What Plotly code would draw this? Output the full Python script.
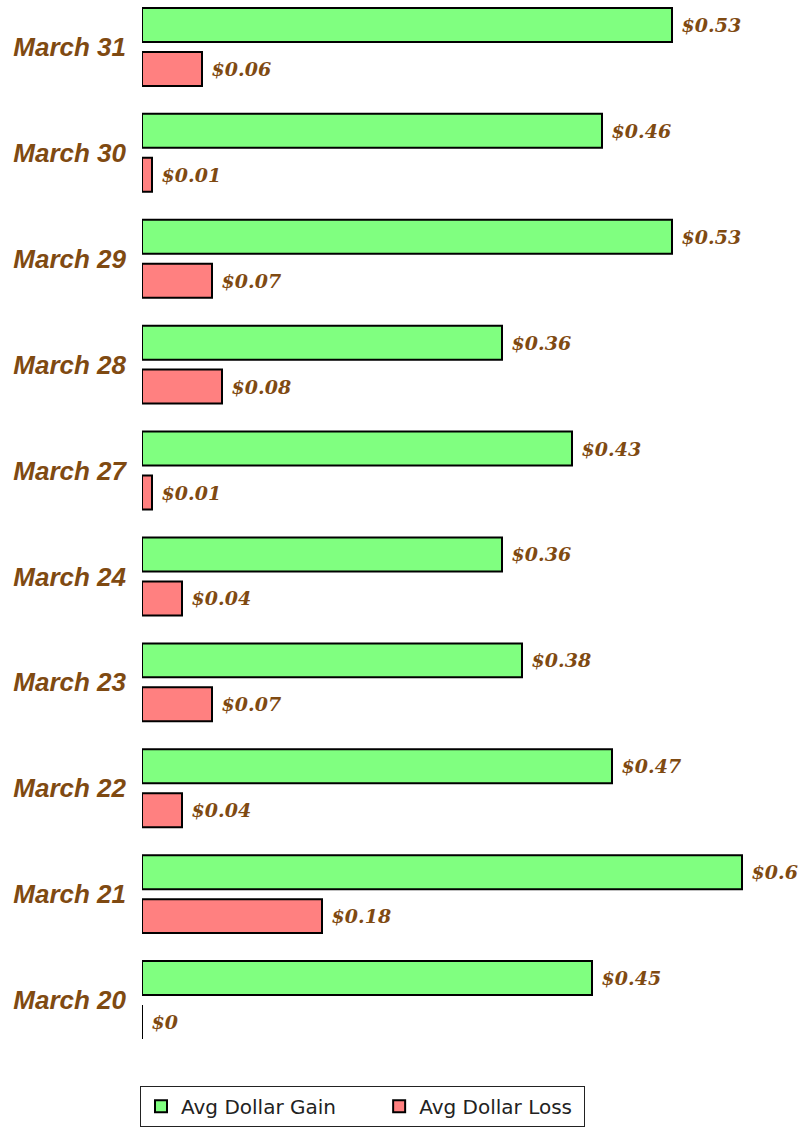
import plotly.graph_objects as go

dates = ["March 31", "March 30", "March 29", "March 28", "March 27",
         "March 24", "March 23", "March 22", "March 21", "March 20"]
gain = [0.53, 0.46, 0.53, 0.36, 0.43, 0.36, 0.38, 0.47, 0.60, 0.45]
loss = [0.06, 0.01, 0.07, 0.08, 0.01, 0.04, 0.07, 0.04, 0.18, 0.00]

BROWN = "#7f4a12"
label_font = dict(family="DejaVu Serif", size=19, color=BROWN, style="italic", weight="bold")

def fmt(v):
    return " $" + f"{v:g}"

fig = go.Figure()
fig.add_trace(go.Bar(
    name="Avg Dollar Gain" + "\u00a0" * 6, y=dates, x=gain, orientation="h",
    marker=dict(color="#80ff80", line=dict(color="black", width=2)),
    text=[fmt(v) for v in gain], textposition="outside", textfont=label_font,
    cliponaxis=False,
))
fig.add_trace(go.Bar(
    name="Avg Dollar Loss" + "\u00a0", y=dates, x=loss, orientation="h",
    marker=dict(color="#ff8080", line=dict(color="black", width=2)),
    text=[fmt(v) for v in loss], textposition="outside", textfont=label_font,
    cliponaxis=False,
))

fig.update_layout(
    width=802, height=1137,
    margin=dict(l=142, r=0, t=0, b=84),
    paper_bgcolor="white", plot_bgcolor="white",
    barmode="group", bargap=0.17, bargroupgap=0.227,
    xaxis=dict(range=[0, 0.66], visible=False, showgrid=False, zeroline=False),
    yaxis=dict(type="category", categoryorder="array", categoryarray=dates,
               range=[9.5, -0.443], showgrid=False, zeroline=False, showline=False,
               ticks="", ticklabelstandoff=15,
               tickfont=dict(family="Liberation Sans", size=26, color=BROWN,
                             style="italic", weight="bold")),
    showlegend=True,
    legend=dict(orientation="h", x=-0.003, xanchor="left", y=-0.031, yanchor="top",
                bordercolor="#222", borderwidth=1, bgcolor="white",
                font=dict(family="DejaVu Sans", size=20, color="#222"),
                traceorder="normal"),
)

fig.write_html(
    "out.html",
    config={"displayModeBar": False},
    post_script="document.body.style.margin='0';document.body.style.overflow='hidden';",
)
